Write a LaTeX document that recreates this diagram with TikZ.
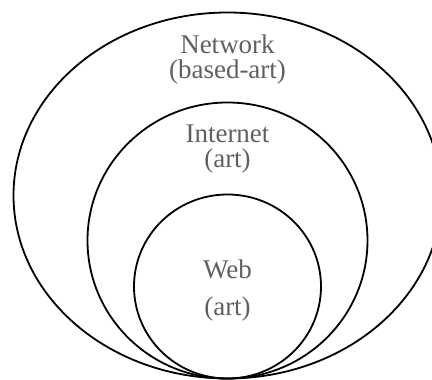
\documentclass[tikz,border=0pt]{standalone}
\usepackage{fontspec}
\setmainfont{Liberation Serif}
\usepackage{tikz}
\definecolor{labelGray}{RGB}{96,96,96}

\begin{document}
\begin{tikzpicture}[
  x=1pt, y=1pt,
  ring/.style={draw=black, line width=1.8pt},
  lbl/.style={text=labelGray, align=center, inner sep=0pt,
              font=\fontsize{27}{24.5}\selectfont},
]
\useasboundingbox (0,0) rectangle (432,380);

% nested ellipses, all touching at the bottom
\draw[ring] (227.5,184.5) ellipse [x radius=214, y radius=183];
\draw[ring] (227.5,139.5) ellipse [x radius=140, y radius=138];
\draw[ring] (227.5,93.5) ellipse [x radius=93.5, y radius=92];

\node[lbl] (network) at (227.5,320.6) {Network\\(based-art)};
\node[lbl] (internet) at (227.5,231) {Internet\\(art)};
\node[lbl] (web) at (227.5,89) {Web\\[12.5pt](art)};
\end{tikzpicture}
\end{document}
